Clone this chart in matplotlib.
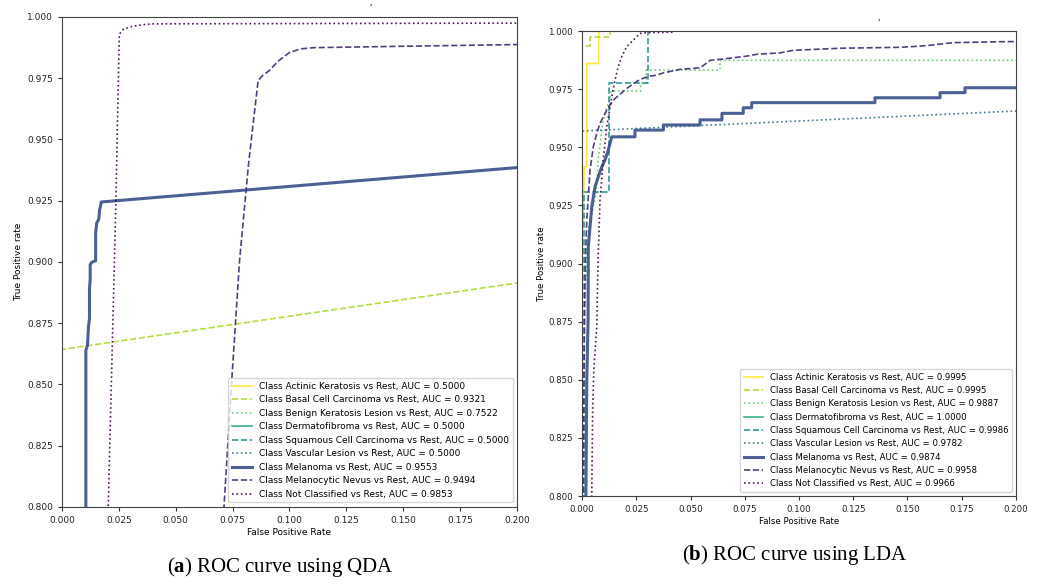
import matplotlib
matplotlib.use("Agg")
import matplotlib.pyplot as plt
import numpy as np

plt.rcParams['font.family'] = ['DejaVu Sans']
plt.rcParams['mathtext.fontset'] = 'custom'
plt.rcParams['mathtext.rm'] = 'Liberation Serif'
plt.rcParams['mathtext.bf'] = 'Liberation Serif:bold'

class_names = ["Actinic Keratosis", "Basal Cell Carcinoma", "Benign Keratosis Lesion",
               "Dermatofibroma", "Squamous Cell Carcinoma", "Vascular Lesion",
               "Melanoma", "Melanocytic Nevus", "Not Classified"]

# ---------------- QDA ----------------
qda_auc = [0.5000, 0.9321, 0.7522, 0.5000, 0.5000, 0.5000, 0.9553, 0.9494, 0.9853]
qda_fpr = [
    [0, 1],
    [0, 0, 1],
    [0, 0, 1],
    [0, 1],
    [0, 1],
    [0, 1],
    [0, 0.0105, 0.0105, 0.0112, 0.0117, 0.0121, 0.0121, 0.0124, 0.0124, 0.0133, 0.0148,
     0.0148, 0.0153, 0.0162, 0.0165, 0.0173, 1],
    [0, 0.0700, 0.0712, 0.0745, 0.0780, 0.0820, 0.0862, 0.0880, 0.0910, 0.0950, 0.1000,
     0.1050, 0.1110, 1],
    [0, 0.0195, 0.0204, 0.0237, 0.0252, 0.0270, 0.0300, 0.0350, 0.0400, 0.2000, 1],
]
qda_tpr = [
    [0, 1],
    [0, 0.8643, 1],
    [0, 0.5044, 1],
    [0, 1],
    [0, 1],
    [0, 1],
    [0, 0.50, 0.864, 0.866, 0.874, 0.877, 0.889, 0.893, 0.899, 0.900, 0.9005,
     0.912, 0.916, 0.9175, 0.921, 0.9245, 1],
    [0, 0.78, 0.80, 0.85, 0.90, 0.94, 0.974, 0.976, 0.978, 0.982, 0.9855,
     0.987, 0.9875, 1],
    [0, 0.78, 0.802, 0.925, 0.993, 0.995, 0.996, 0.9968, 0.9972, 0.9975, 1],
]

# ---------------- LDA ----------------
lda_auc = [0.9995, 0.9995, 0.9887, 1.0000, 0.9986, 0.9782, 0.9874, 0.9958, 0.9966]
lda_fpr = [
    [0, 0, 0.001, 0.0022, 0.0022, 0.0077, 0.0077, 1],
    [0, 0, 0.0037, 0.0037, 0.013, 0.013, 1],
    [0, 0.0005, 0.001, 0.003, 0.0065, 0.0075, 0.0095, 0.011, 0.0125, 0.0135, 0.027, 0.027,
     0.0295, 0.0295, 0.0636, 0.0636, 1.0, 1],
    [0, 0, 1],
    [0, 0.001, 0.001, 0.0125, 0.0125, 0.0305, 0.0305, 1],
    [0, 0, 1],
    [0, 0.0015, 0.0018, 0.0022, 0.0028, 0.0029, 0.0045, 0.006, 0.0075, 0.0091, 0.0106,
     0.0121, 0.0137, 0.0244, 0.0244, 0.0375, 0.0375, 0.0544, 0.0544, 0.0645, 0.0645,
     0.0743, 0.0743, 0.0782, 0.0782, 0.135, 0.135, 0.165, 0.165, 0.1765, 0.1765, 0.25, 1],
    [0, 0.0005, 0.001, 0.0015, 0.0022, 0.0037, 0.0052, 0.0068, 0.0083, 0.0114, 0.0144,
     0.0206, 0.0267, 0.0313, 0.0344, 0.0375, 0.0452, 0.0544, 0.0567, 0.059, 0.0636,
     0.0697, 0.0759, 0.0805, 0.0912, 0.0974, 0.1189, 0.1465, 0.1558, 0.1604, 0.1711,
     0.1926, 0.25, 1],
    [0, 0.004, 0.0045, 0.0049, 0.0055, 0.0068, 0.0074, 0.0083, 0.0098, 0.0114, 0.0137,
     0.0152, 0.0167, 0.0183, 0.0206, 0.0237, 0.0267, 0.0298, 0.042, 0.042, 1],
]
lda_tpr = [
    [0, 0.90, 0.9416, 0.9416, 0.986, 0.986, 1.0, 1],
    [0, 0.9935, 0.9935, 0.9973, 0.9973, 1.0, 1],
    [0, 0.80, 0.88, 0.915, 0.93, 0.945, 0.96, 0.966, 0.970, 0.9742, 0.9742, 0.9775,
     0.9775, 0.9832, 0.9832, 0.9874, 0.9874, 1],
    [0, 1, 1],
    [0, 0.5, 0.9309, 0.9309, 0.9775, 0.9775, 1.0, 1],
    [0, 0.957, 1],
    [0, 0.70, 0.80, 0.85, 0.8757, 0.9072, 0.9244, 0.933, 0.9373, 0.9416, 0.9445,
     0.9488, 0.9545, 0.9545, 0.9574, 0.9574, 0.9596, 0.9596, 0.9618, 0.9618, 0.9646,
     0.9646, 0.967, 0.967, 0.9692, 0.9692, 0.9713, 0.9713, 0.9735, 0.9735, 0.9756, 0.9756, 1],
    [0, 0.80, 0.86, 0.90, 0.9187, 0.9402, 0.9502, 0.956, 0.9603, 0.966, 0.9703,
     0.9753, 0.9792, 0.9806, 0.981, 0.982, 0.9835, 0.9842, 0.9857, 0.9874, 0.9878,
     0.9885, 0.9892, 0.99, 0.9906, 0.9917, 0.9926, 0.993, 0.9935, 0.9939, 0.995,
     0.9954, 0.996, 1],
    [0, 0.75, 0.8013, 0.837, 0.8556, 0.8728, 0.9015, 0.9273, 0.9445, 0.9588, 0.9717,
     0.9789, 0.9847, 0.989, 0.9933, 0.9961, 0.999, 0.9993, 0.9995, 1.0, 1],
]

x_ticks = [0.000, 0.025, 0.050, 0.075, 0.100, 0.125, 0.150, 0.175, 0.200]
y_ticks = [0.800, 0.825, 0.850, 0.875, 0.900, 0.925, 0.950, 0.975, 1.000]

colors = plt.cm.viridis(np.linspace(1, 0, 9))
styles = ['-', '--', ':', '-', '--', ':', '-', '--', ':']
widths = [1.2, 1.2, 1.2, 1.2, 1.2, 1.2, 2.2, 1.2, 1.2]

fig = plt.figure(figsize=(10.38, 5.80), dpi=100)
ax1 = fig.add_axes([0.0597, 0.1259, 0.4384, 0.8448])
ax2 = fig.add_axes([0.5607, 0.1448, 0.4181, 0.8017])


def draw(ax, fprs, tprs, aucs, fs, ylpad):
    for i in range(9):
        ax.plot(fprs[i], tprs[i], linestyle=styles[i], color=colors[i], lw=widths[i],
                alpha=0.92,
                label=f"Class {class_names[i]} vs Rest, AUC = {aucs[i]:.4f}")
    ax.set_xlim(0, 0.2)
    ax.set_ylim(0.8, 1.0)
    ax.set_xticks(x_ticks)
    ax.set_yticks(y_ticks)
    ax.set_xticklabels([f"{v:.3f}" for v in x_ticks])
    ax.set_yticklabels([f"{v:.3f}" for v in y_ticks])
    ax.tick_params(labelsize=fs, length=3, width=0.8, colors='#333333', labelcolor='#222222')
    ax.set_xlabel("False Positive Rate", fontsize=fs, labelpad=2)
    ax.set_ylabel("True Positive rate", fontsize=fs, labelpad=ylpad)
    for s in ax.spines.values():
        s.set_color('#444444')
        s.set_linewidth(0.8)
    ax.legend(loc='lower right', fontsize=fs, handlelength=2.2, borderpad=0.4,
              labelspacing=0.5, handletextpad=0.8)


draw(ax1, qda_fpr, qda_tpr, qda_auc, 6.5, 3)
draw(ax2, lda_fpr, lda_tpr, lda_auc, 6.2, 2)

# small title marks above each panel
fig.text(370 / 1038, 1 - 13 / 580, "'", fontsize=6, ha='center', va='bottom')
fig.text(878 / 1038, 1 - 28 / 580, "'", fontsize=6, ha='center', va='bottom')

fig.text(0.27, 0.014, r"($\mathbf{a}$) ROC curve using QDA", fontsize=15,
         family='Liberation Serif', ha='center', va='baseline')
fig.text(0.766, 0.035, r"($\mathbf{b}$) ROC curve using LDA", fontsize=15,
         family='Liberation Serif', ha='center', va='baseline')

fig.savefig("out.png", dpi=100)
